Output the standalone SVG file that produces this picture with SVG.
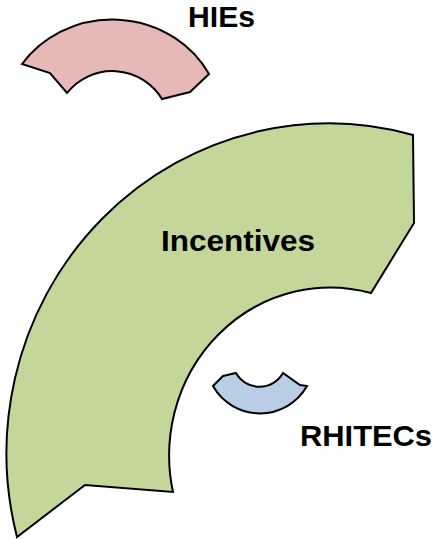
<svg xmlns="http://www.w3.org/2000/svg" width="433" height="539" viewBox="0 0 433 539">
<style>
.shape{stroke:#000;stroke-width:2;stroke-linejoin:miter}
.lbl{font-family:"Liberation Sans",Arial,sans-serif;font-weight:bold;font-size:30px;fill:#000}
</style>
<rect width="433" height="539" fill="#fff"/>
<g id="incentives">
<path class="shape" fill="#c4d79b" d="M413,135 L414,223 L371,293 A161 168 0 0 0 173,492 L85,485 L17,537 A322 330 0 0 1 413,135 Z"/>
<text class="lbl" x="161" y="251" textLength="154" lengthAdjust="spacingAndGlyphs">Incentives</text>
</g>
<g id="hies">
<path class="shape" fill="#e6b9b8" d="M22,64 A110 104 0 0 1 209,74 L190,92 L162,99 A58 58 0 0 0 67,93 L50,73 Z"/>
<text class="lbl" x="188" y="27" textLength="67" lengthAdjust="spacingAndGlyphs">HIEs</text>
</g>
<g id="rhitecs">
<path class="shape" fill="#b9cde5" d="M223,376 L236,373 A27 27 0 0 0 283,373 L300,385 L307,386 A54 54 0 0 1 213,386 Z"/>
<text class="lbl" x="300" y="446" textLength="132" lengthAdjust="spacingAndGlyphs">RHITECs</text>
</g>
<g id="connectors"/>
</svg>
